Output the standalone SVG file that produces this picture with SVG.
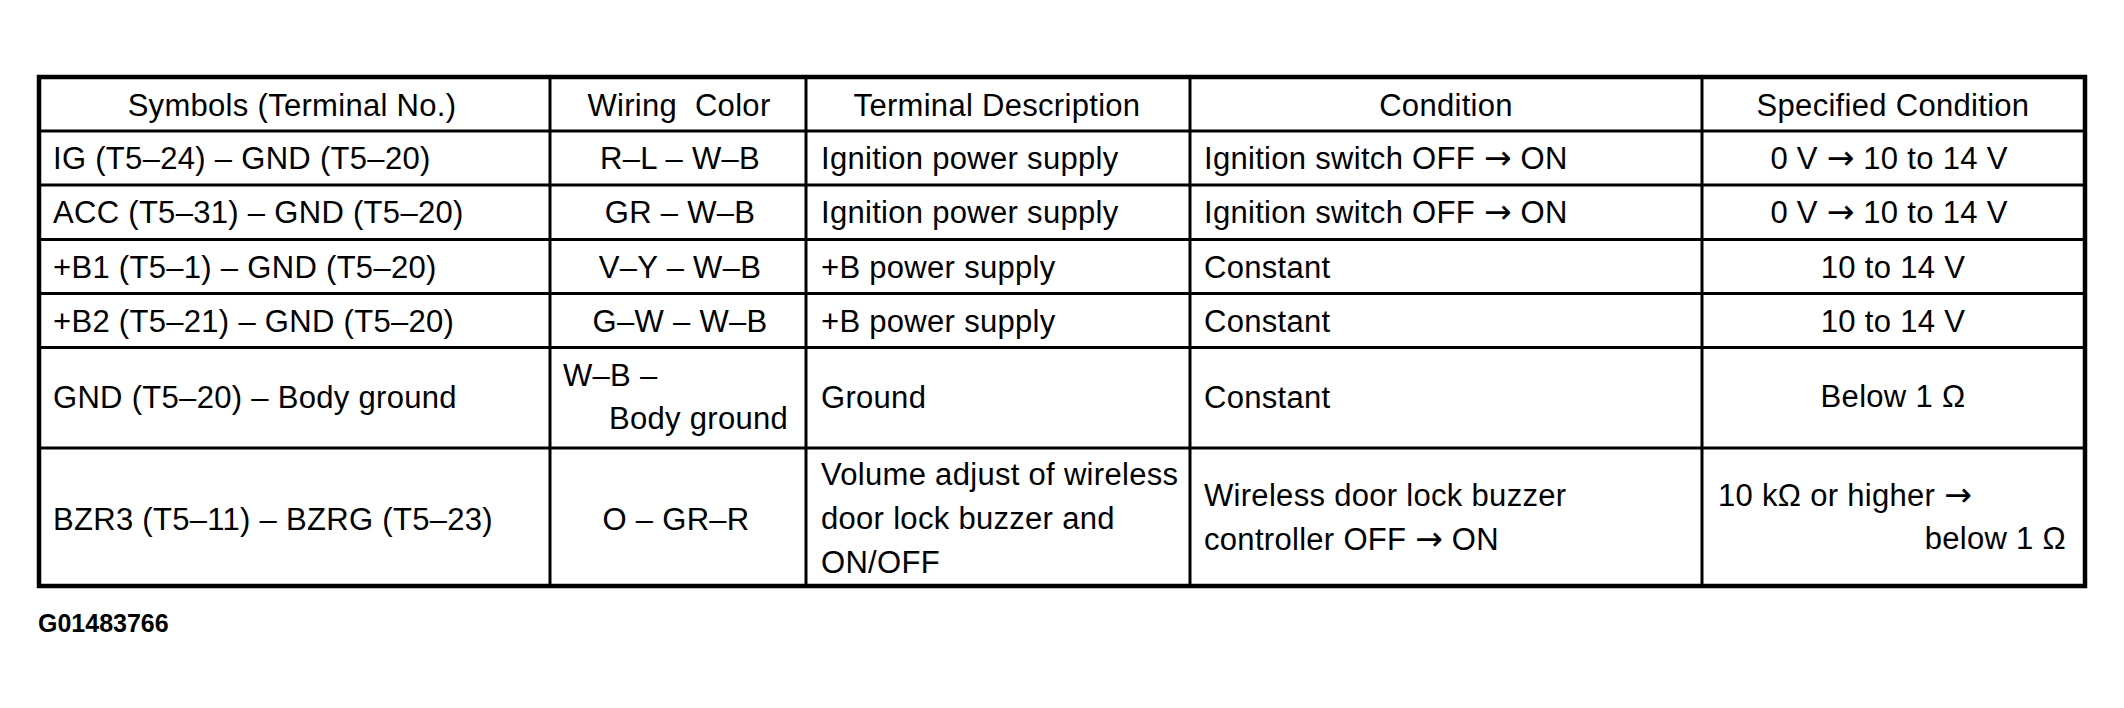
<svg xmlns="http://www.w3.org/2000/svg" width="2124" height="708" viewBox="0 0 2124 708">
<style>
text{font-family:"Liberation Sans",Arial,Helvetica,sans-serif;font-size:31px;fill:#000;white-space:pre;letter-spacing:0.3px}
.c{text-anchor:middle}
.e{text-anchor:end}
tspan.a{font-family:"DejaVu Sans",sans-serif;font-size:33px;letter-spacing:0}
.outer{fill:none;stroke:#000;stroke-width:4.5}
.in{stroke:#000;stroke-width:3;fill:none}
.id{font-size:25px;font-weight:bold;letter-spacing:0}
</style>
<rect width="2124" height="708" fill="#fff"/>
<g id="grid">
<rect class="outer" x="39" y="77" width="2046" height="509"/>
<path class="in" d="M550 77V586M806 77V586M1190 77V586M1702 77V586"/>
<path class="in" d="M39 131H2085M39 185H2085M39 239.5H2085M39 293.5H2085M39 347.5H2085M39 448H2085"/>
</g>
<g id="header">
<text class="c" x="292" y="115.5">Symbols (Terminal No.)</text>
<text class="c" x="679" y="115.5">Wiring  Color</text>
<text class="c" x="997" y="115.5">Terminal Description</text>
<text class="c" x="1446" y="115.5">Condition</text>
<text class="c" x="1893" y="115.5">Specified Condition</text>
</g>
<g id="row1">
<text x="53" y="169">IG (T5–24) – GND (T5–20)</text>
<text class="c" x="680" y="169">R–L – W–B</text>
<text x="821" y="169">Ignition power supply</text>
<text x="1204" y="169">Ignition switch OFF <tspan class="a" font-family="DejaVu Sans" font-size="33">→</tspan> ON</text>
<text class="c" x="1889" y="169">0 V <tspan class="a" font-family="DejaVu Sans" font-size="33">→</tspan> 10 to 14 V</text>
</g>
<g id="row2">
<text x="53" y="223">ACC (T5–31) – GND (T5–20)</text>
<text class="c" x="680" y="223">GR – W–B</text>
<text x="821" y="223">Ignition power supply</text>
<text x="1204" y="223">Ignition switch OFF <tspan class="a" font-family="DejaVu Sans" font-size="33">→</tspan> ON</text>
<text class="c" x="1889" y="223">0 V <tspan class="a" font-family="DejaVu Sans" font-size="33">→</tspan> 10 to 14 V</text>
</g>
<g id="row3">
<text x="53" y="277.5">+B1 (T5–1) – GND (T5–20)</text>
<text class="c" x="680" y="277.5">V–Y – W–B</text>
<text x="821" y="277.5">+B power supply</text>
<text x="1204" y="277.5">Constant</text>
<text class="c" x="1893" y="277.5">10 to 14 V</text>
</g>
<g id="row4">
<text x="53" y="331.5">+B2 (T5–21) – GND (T5–20)</text>
<text class="c" x="680" y="331.5">G–W – W–B</text>
<text x="821" y="331.5">+B power supply</text>
<text x="1204" y="331.5">Constant</text>
<text class="c" x="1893" y="331.5">10 to 14 V</text>
</g>
<g id="row5">
<text x="53" y="408">GND (T5–20) – Body ground</text>
<text x="563" y="386">W–B –</text>
<text x="609" y="429">Body ground</text>
<text x="821" y="408">Ground</text>
<text x="1204" y="408">Constant</text>
<text class="c" x="1893" y="407">Below 1 Ω</text>
</g>
<g id="row6">
<text x="53" y="530">BZR3 (T5–11) – BZRG (T5–23)</text>
<text class="c" x="676" y="530">O – GR–R</text>
<text x="821" y="485">Volume adjust of wireless</text>
<text x="821" y="529">door lock buzzer and</text>
<text x="821" y="572.5">ON/OFF</text>
<text x="1204" y="505.5">Wireless door lock buzzer</text>
<text x="1204" y="549.5">controller OFF <tspan class="a" font-family="DejaVu Sans" font-size="33">→</tspan> ON</text>
<text x="1718" y="505.5">10 kΩ or higher <tspan class="a" font-family="DejaVu Sans" font-size="33">→</tspan></text>
<text class="e" x="2066" y="549">below 1 Ω</text>
</g>
<text class="id" x="38" y="632">G01483766</text>
</svg>
